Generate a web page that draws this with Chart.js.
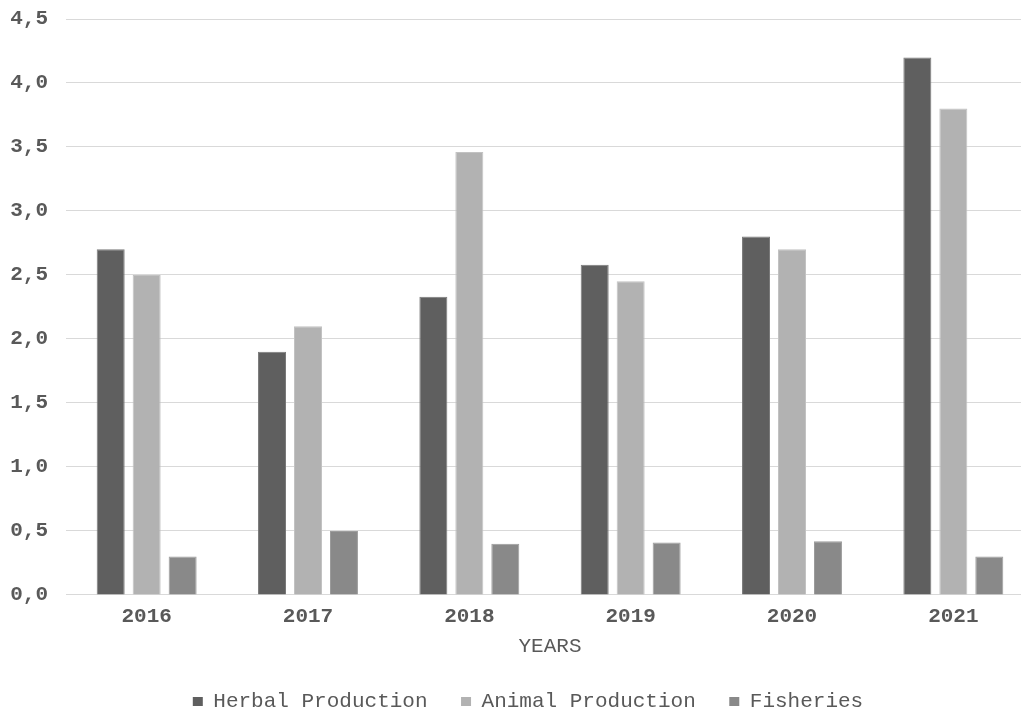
<!DOCTYPE html>
<html>
<head>
<meta charset="utf-8">
<script src="https://cdn.jsdelivr.net/npm/chart.js@4/dist/chart.umd.min.js"></script>
<style>
  html, body { margin: 0; padding: 0; background: #fff; overflow: hidden; }
  #wrap { width: 1021px; height: 711px; overflow: hidden; }
</style>
</head>
<body>
<div id="wrap">
  <canvas id="myChart" width="1034" height="711"></canvas>
</div>
<script>
// data
const years = ["2016", "2017", "2018", "2019", "2020", "2021"];
const herbal = [2.7, 1.9, 2.33, 2.58, 2.8, 4.2];
const animal = [2.5, 2.1, 3.46, 2.45, 2.7, 3.8];
const fisheries = [0.3, 0.5, 0.4, 0.41, 0.42, 0.3];
const yTicks = [0, 0.5, 1, 1.5, 2, 2.5, 3, 3.5, 4, 4.5];

const textColor = "#595959";
const mono = "'Liberation Mono', 'Courier New', monospace";

// the legend sits a bit right of the canvas center in the original
const legendShift = {
  id: "legendShift",
  afterLayout(chart) {
    chart.legend.left += 22;
  }
};

const ctx = document.getElementById("myChart");

new Chart(ctx, {
  type: "bar",
  data: {
    labels: years,
    datasets: [
      { label: "Herbal Production", data: herbal, backgroundColor: "#5f5f5f", borderColor: "#7a7a7a", borderWidth: 1 },
      { label: "Animal Production", data: animal, backgroundColor: "#b2b2b2", borderColor: "#c2c2c2", borderWidth: 1 },
      { label: "Fisheries", data: fisheries, backgroundColor: "#898989", borderColor: "#9c9c9c", borderWidth: 1 }
    ]
  },
  plugins: [legendShift],
  options: {
    responsive: false,
    animation: false,
    categoryPercentage: 0.669,
    barPercentage: 0.778,
    layout: { padding: { top: 19, left: 0, right: 0, bottom: -11 } },
    plugins: {
      tooltip: { enabled: false },
      legend: {
        position: "bottom",
        labels: {
          color: textColor,
          font: { family: mono, size: 21 },
          boxWidth: 10,
          boxHeight: 9,
          padding: 33.5,
          generateLabels: (chart) =>
            Chart.defaults.plugins.legend.labels.generateLabels(chart).map(l => ({ ...l, lineWidth: 0 }))
        }
      }
    },
    scales: {
      x: {
        grid: { display: false },
        border: { color: "#d9d9d9" },
        ticks: {
          color: textColor,
          font: { family: mono, size: 21, weight: "bold" },
          padding: 1
        },
        title: {
          display: true,
          text: "YEARS",
          color: textColor,
          font: { family: mono, size: 21, lineHeight: 0.97 },
          padding: { top: 6, bottom: 1 }
        }
      },
      y: {
        min: 0,
        max: 4.5,
        afterFit: (scale) => {
          scale.width = 66;
          scale.paddingTop = 0;
          scale.paddingBottom = 0;
        },
        afterBuildTicks: (scale) => { scale.ticks = yTicks.map(v => ({ value: v })); },
        grid: { color: "#d9d9d9", drawTicks: false },
        border: { display: false },
        ticks: {
          color: textColor,
          font: { family: mono, size: 21, weight: "bold" },
          padding: 18,
          callback: (v) => Number(v).toFixed(1).replace(".", ",")
        }
      }
    }
  }
});
</script>
</body>
</html>
